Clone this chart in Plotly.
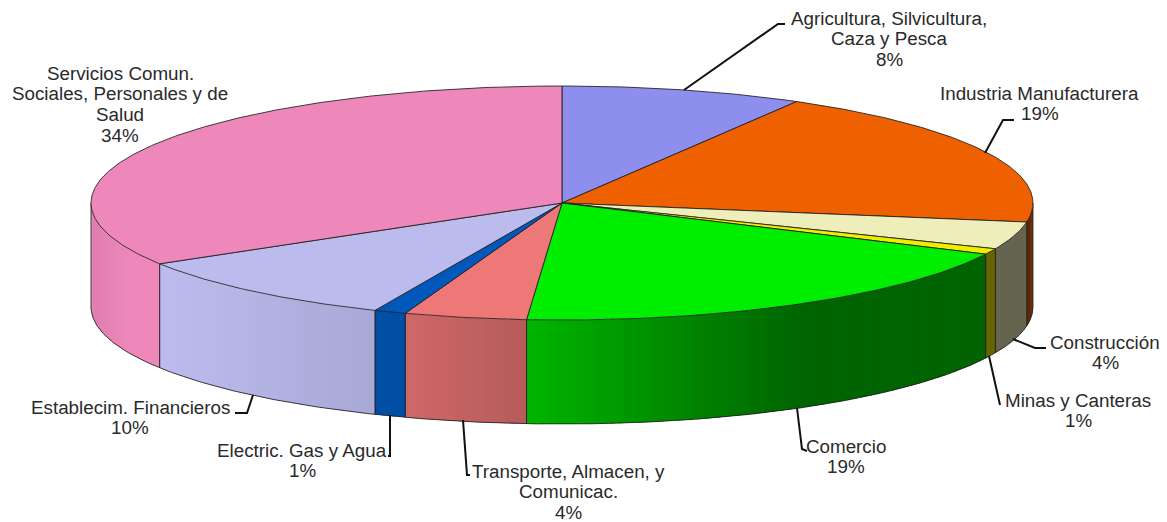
import math
import plotly.graph_objects as go

# ---- data ----
categories = ["Agricultura, Silvicultura, Caza y Pesca", "Industria Manufacturera", "Construcción",
              "Minas y Canteras", "Comercio", "Transporte, Almacen, y Comunicac.",
              "Electric. Gas y Agua", "Establecim. Financieros", "Servicios Comun. Sociales, Personales y de Salud"]
values = [8.3, 19.3, 3.8, 0.8, 19.0, 4.2, 1.1, 9.8, 33.7]
percent_labels = ["8%", "19%", "4%", "1%", "19%", "4%", "1%", "10%", "34%"]
label_lines = [["Agricultura, Silvicultura,", "Caza y Pesca"], ["Industria Manufacturera"], ["Construcción"],
               ["Minas y Canteras"], ["Comercio"], ["Transporte, Almacen, y", "Comunicac."],
               ["Electric. Gas y Agua"], ["Establecim. Financieros"],
               ["Servicios Comun.", "Sociales, Personales y de", "Salud"]]

# ---- styles / geometry ----
colors = [(142, 142, 238), (238, 96, 0), (238, 238, 187), (238, 238, 0), (0, 238, 0),
          (238, 119, 119), (0, 88, 187), (187, 187, 238), (238, 136, 187)]
CX, CY, RX, RY, DEPTH = 562, 203, 471, 117, 104
LINE_PITCH = 20.7
label_anchor = [(889, 18), (1039.5, 93), (1105, 342), (1078, 400), (846, 446), (568, 471),
                (302, 450), (130, 407), (120, 73)]
leaders = [[(684, 90), (778, 24), (785, 24)], [(985, 153), (1003, 120), (1014, 120)],
           [(1013, 339), (1035, 348), (1046, 348)], [(989, 356), (1000, 405)],
           [(797, 408), (802, 449), (807, 451)], [(463, 420), (467, 475), (470, 475)],
           [(390, 415), (390, 456), (388, 456)], [(253, 395), (247, 413), (235, 413)]]
shade_stops = [(91, .93), (130, 1.0), (165, 1.0), (375, .90), (407, .87), (526, .76), (650, .6),
               (800, .42), (1040, .42)]


def pt(deg, dz=0):
    a = math.radians(deg)
    return CX + RX * math.sin(a), CY - RY * math.cos(a) + dz


def shade(x):
    for (x0, s0), (x1, s1) in zip(shade_stops, shade_stops[1:]):
        if x <= x1:
            return s0 + (s1 - s0) * (x - x0) / (x1 - x0)
    return shade_stops[-1][1]


def arc(a0, a1, step=0.5, dz=0):
    n = max(2, int(abs(a1 - a0) / step) + 1)
    return [pt(a0 + (a1 - a0) * i / (n - 1), dz) for i in range(n)]


def poly(points, fill=None, line=None, width=0, closed=True):
    xs = [p[0] for p in points]
    ys = [p[1] for p in points]
    if closed:
        xs.append(xs[0]); ys.append(ys[0])
    return go.Scatter(x=xs, y=ys, mode="lines", fill="toself" if fill else "none", fillcolor=fill,
                      line=dict(color=line or "rgba(0,0,0,0)", width=width), hoverinfo="skip",
                      showlegend=False)


fig = go.Figure()
total = sum(values)
bounds = [0]
for v in values:
    bounds.append(bounds[-1] + v / total * 360)

EDGE = "rgba(30,30,30,0.85)"
# side wall strips, drawn from the front half of the ellipse only
for i, col in enumerate(colors):
    a0, a1 = max(bounds[i], 90), min(bounds[i + 1], 270)
    if a1 <= a0:
        continue
    n = max(1, int((a1 - a0) / 1.2))
    for k in range(n):
        s0 = a0 + (a1 - a0) * k / n
        s1 = a0 + (a1 - a0) * (k + 1.6) / n if k < n - 1 else a1
        xm = pt((s0 + min(s1, a1)) / 2)[0]
        s = shade(xm)
        rgb = "rgb(%d,%d,%d)" % tuple(min(255, round(c * s)) for c in col)
        top = arc(s0, min(s1, a1), step=0.4)
        fig.add_trace(poly(top + [(x, y + DEPTH) for x, y in reversed(top)], fill=rgb))
    fig.add_trace(poly([pt(a0), pt(a0, DEPTH)], line=EDGE, width=1, closed=False))
    fig.add_trace(poly([pt(a1), pt(a1, DEPTH)], line=EDGE, width=1, closed=False))
fig.add_trace(poly(arc(90, 270, dz=DEPTH), line=EDGE, width=1, closed=False))

# top face
for i, col in enumerate(colors):
    fig.add_trace(poly([(CX, CY)] + arc(bounds[i], bounds[i + 1]), fill="rgb(%d,%d,%d)" % col,
                       line=EDGE, width=1))

# leader lines
for path in leaders:
    fig.add_trace(poly(path, line="#111111", width=2, closed=False))

# labels: one annotation per line so the line pitch can follow the reference
annotations = []
for lines, pct, (x, y) in zip(label_lines, percent_labels, label_anchor):
    for j, text in enumerate(lines + [pct]):
        annotations.append(dict(x=x, y=y + j * LINE_PITCH, xref="x", yref="y", showarrow=False,
                                xanchor="center", yanchor="middle", align="center", text=text,
                                font=dict(family="Liberation Sans", size=18.8, color="#2a2a2a")))

fig.update_layout(width=1167, height=522, margin=dict(l=0, r=0, t=0, b=0), paper_bgcolor="white",
                  plot_bgcolor="white", annotations=annotations, showlegend=False, hovermode=False,
                  xaxis=dict(range=[0, 1167], visible=False, fixedrange=True),
                  yaxis=dict(range=[522, 0], visible=False, fixedrange=True))
fig.write_html("out.html", config=dict(displayModeBar=False),
               post_script="document.body.style.margin='0';document.documentElement.style.overflow='hidden';")
